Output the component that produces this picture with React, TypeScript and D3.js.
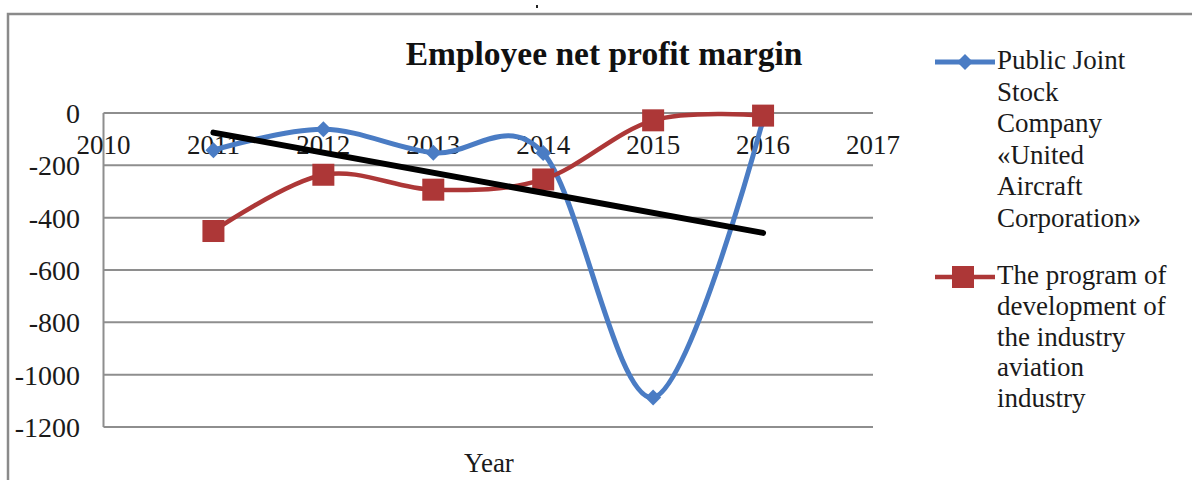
import React from "react";
import * as d3 from "d3";

const years = [2010, 2011, 2012, 2013, 2014, 2015, 2016, 2017];
const dataYears = [2011, 2012, 2013, 2014, 2015, 2016];
const uacValues = [-142, -62, -152, -153, -1087, -25];
const programValues = [-451, -236, -293, -254, -28, -10];
const trendYears = [2011, 2016];
const trendValues = [-75, -458];
const yTicks = [0, -200, -400, -600, -800, -1000, -1200];
const legendUac = ["Public Joint", "Stock", "Company", "«United", "Aircraft", "Corporation»"];
const legendProgram = ["The program of", "development of", "the industry", "aviation", "industry"];

const BLUE = "#4A7CC4";
const RED = "#AD3737";
const GRID = "#8E8E8E";
const TEXT = "#1a1a1a";
const FONT = "'Liberation Serif', 'Times New Roman', serif";

export default function App() {
  const x = d3.scalePoint<number>().domain(years).range([103.5, 873]);
  const y = d3.scaleLinear().domain([-1200, 0]).range([427, 113]);

  const line = d3
    .line<[number, number]>()
    .x((d) => x(d[0]) as number)
    .y((d) => y(d[1]))
    .curve(d3.curveCardinal.tension(0));

  const uacPts: [number, number][] = dataYears.map((yr, i) => [yr, uacValues[i]]);
  const progPts: [number, number][] = dataYears.map((yr, i) => [yr, programValues[i]]);
  const trendPts: [number, number][] = trendYears.map((yr, i) => [yr, trendValues[i]]);
  const straight = d3
    .line<[number, number]>()
    .x((d) => x(d[0]) as number)
    .y((d) => y(d[1]));

  const diamond = (cx: number, cy: number, r: number) =>
    `M${cx},${cy - r}L${cx + r},${cy}L${cx},${cy + r}L${cx - r},${cy}Z`;

  const sq = 22;
  const lineH = 31.5;

  return (
    <svg
      width={1192}
      height={480}
      style={{ position: "absolute", left: 0, top: 0, background: "#fff" }}
      fontFamily={FONT}
    >
      <rect x={0} y={0} width={1192} height={480} fill="#fff" />
      <rect x={8} y={14} width={1300} height={600} fill="none" stroke="#8A8A8A" strokeWidth={2.5} />
      <rect x={536} y={5} width={2} height={3} fill="#222" />

      <text x={604} y={65} textAnchor="middle" fontSize={33.5} fontWeight="bold" fill="#111">
        Employee net profit margin
      </text>

      {yTicks.map((t) => (
        <line key={t} x1={103.5} x2={873} y1={y(t)} y2={y(t)} stroke={GRID} strokeWidth={2} />
      ))}
      <line x1={103.5} x2={103.5} y1={y(0)} y2={y(-1200)} stroke={GRID} strokeWidth={2} />

      {yTicks.map((t) => (
        <text key={t} x={80} y={y(t) + 10} textAnchor="end" fontSize={28} fill={TEXT}>
          {t}
        </text>
      ))}

      {years.map((yr) => (
        <text key={yr} x={x(yr)} y={y(0) + 41} textAnchor="middle" fontSize={27} fill={TEXT}>
          {yr}
        </text>
      ))}

      <text x={489} y={472} textAnchor="middle" fontSize={27} fill={TEXT}>
        Year
      </text>

      <path d={line(uacPts) || ""} fill="none" stroke={BLUE} strokeWidth={5} strokeLinejoin="round" />
      {uacPts.map((p, i) => (
        <path key={i} d={diamond(x(p[0]) as number, y(p[1]), 8)} fill={BLUE} />
      ))}
      <path d={line(progPts) || ""} fill="none" stroke={RED} strokeWidth={4.5} strokeLinejoin="round" />
      {progPts.map((p, i) => (
        <rect key={i} x={(x(p[0]) as number) - sq / 2} y={y(p[1]) - sq / 2} width={sq} height={sq} fill={RED} />
      ))}
      <path d={straight(trendPts) || ""} fill="none" stroke="#000" strokeWidth={6} strokeLinecap="round" />

      <line x1={935} x2={995} y1={62} y2={62} stroke={BLUE} strokeWidth={5} />
      <path d={diamond(965, 62, 8)} fill={BLUE} />
      {legendUac.map((s, i) => (
        <text key={s} x={997} y={69 + i * lineH} fontSize={27} fill={TEXT}>
          {s}
        </text>
      ))}
      <line x1={935} x2={995} y1={277} y2={277} stroke={RED} strokeWidth={4.5} />
      <rect x={963 - sq / 2} y={277 - sq / 2} width={sq} height={sq} fill={RED} />
      {legendProgram.map((s, i) => (
        <text key={s + i} x={997} y={284 + i * 30.8} fontSize={27} fill={TEXT}>
          {s}
        </text>
      ))}
    </svg>
  );
}
